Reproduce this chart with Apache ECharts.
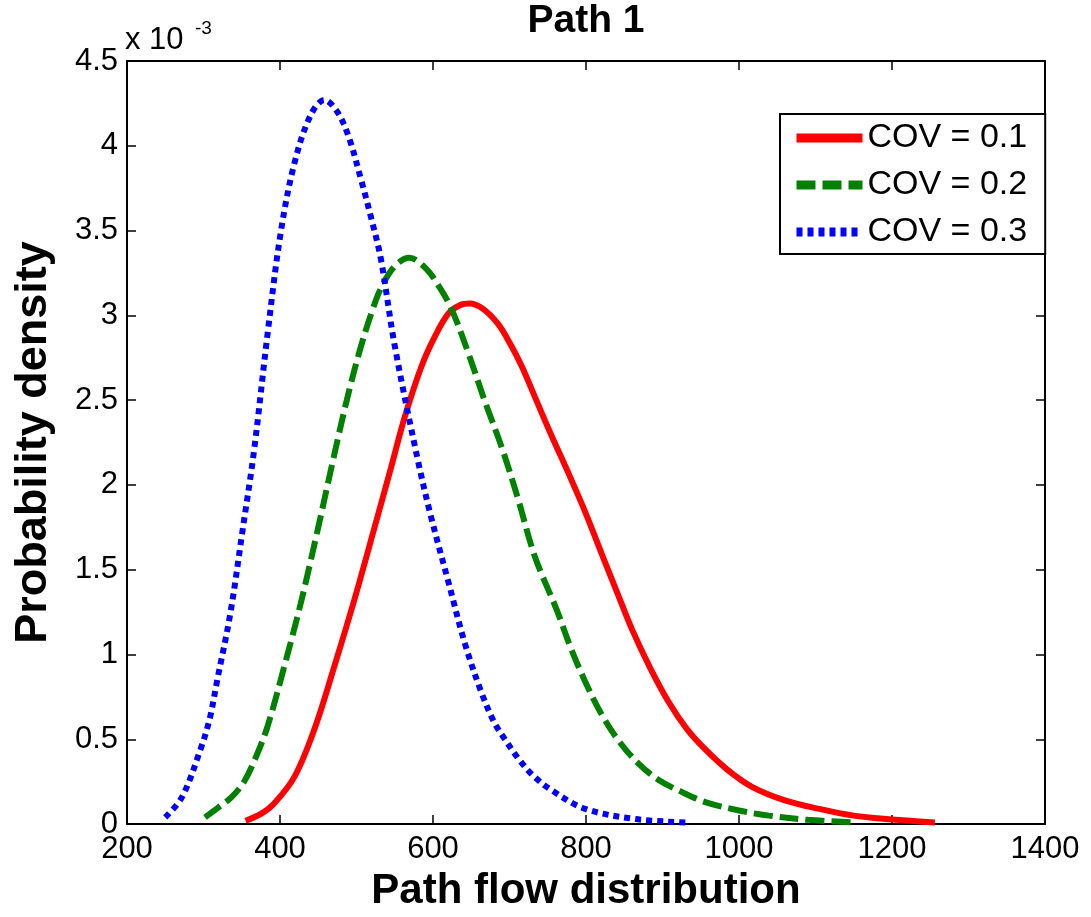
<!DOCTYPE html>
<html>
<head>
<meta charset="utf-8">
<script src="https://cdn.jsdelivr.net/npm/echarts@6/dist/echarts.min.js"></script>
<style>html,body{margin:0;padding:0;background:#fff;}#chart{width:1091px;height:917px;}</style>
</head>
<body>
<div id="chart"></div>
<script>
// Values; y values are in units of 1e-3 (axis shows "x 10^-3")
const titleText = 'Path 1';
const xLabel = 'Path flow distribution';
const yLabel = 'Probability density';
const seriesNames = ['COV = 0.1', 'COV = 0.2', 'COV = 0.3'];

const redX = [355,375,392,419,445,471,497,523,545,563,585,603,620,635,648,665,685,700,716,735,755,777,799,820,843,860,884,908,932,956,985,1017,1060,1105,1150,1192,1256];
const redY = [0.02,0.06,0.12,0.28,0.56,0.93,1.32,1.74,2.10,2.40,2.70,2.88,3.01,3.06,3.07,3.04,2.95,2.84,2.70,2.50,2.29,2.07,1.84,1.60,1.34,1.15,0.92,0.72,0.56,0.44,0.32,0.22,0.14,0.09,0.05,0.03,0.01];

const greenX = [302,320,337,353,368,384,405,427,449,471,490,506,520,532,550,569,590,608,624,646,668,690,711,733,762,780,799,820,843,868,895,925,956,1000,1039,1090,1150];
const greenY = [0.04,0.10,0.16,0.25,0.39,0.58,0.92,1.30,1.73,2.18,2.55,2.82,3.02,3.16,3.29,3.34,3.28,3.17,3.04,2.78,2.49,2.22,1.92,1.58,1.26,1.04,0.84,0.65,0.49,0.36,0.26,0.19,0.13,0.08,0.05,0.025,0.01];

const blueX = [250,272,296,308,318,335,351,366,384,401,419,440,458,475,490,506,520,532,550,580,597,620,642,663,680,694,711,730,755,799,865,930];
const blueY = [0.04,0.16,0.44,0.62,0.85,1.24,1.73,2.20,2.90,3.49,3.90,4.18,4.27,4.20,4.05,3.80,3.56,3.33,2.82,2.15,1.82,1.43,1.06,0.78,0.60,0.50,0.39,0.29,0.20,0.09,0.03,0.01];

const xMin = 200, xMax = 1400, xStep = 200;
const yMin = 0, yMax = 4.5, yStep = 0.5;

const colors = ['#ff0000', '#008000', '#0000ff'];
const dashes = ['solid', [19, 7], [6, 5]];

function pairs(xs, ys) { return xs.map((x, i) => [x, ys[i]]); }

const FONT = "'Liberation Sans', Arial, Helvetica, sans-serif";
const chart = echarts.init(document.getElementById('chart'), null, {renderer: 'canvas'});

const axisCommon = {
  axisLine: {show: true, onZero: false, lineStyle: {color: '#000', width: 2}},
  axisTick: {show: true, inside: true, length: 9, lineStyle: {color: '#000', width: 1.5}},
  splitLine: {show: false}
};

const option = {
  backgroundColor: '#fff',
  animation: false,
  title: {
    text: titleText,
    left: 581, top: -3, textAlign: 'center',
    textStyle: {fontFamily: FONT, fontSize: 39, fontWeight: 'bold', color: '#000'}
  },
  grid: {left: 127, right: 46, top: 61, bottom: 89, containLabel: false},
  xAxis: [
    Object.assign({
      type: 'value', min: xMin, max: xMax, interval: xStep, position: 'bottom',
      name: xLabel, nameLocation: 'middle', nameGap: 41,
      nameTextStyle: {fontFamily: FONT, fontSize: 42, fontWeight: 'bold', color: '#000'},
      axisLabel: {fontFamily: FONT, fontSize: 31, color: '#000', margin: 10, formatter: v => String(v)}
    }, axisCommon),
    Object.assign({
      type: 'value', min: xMin, max: xMax, interval: xStep, position: 'top',
      axisLabel: {show: false}
    }, axisCommon)
  ],
  yAxis: [
    Object.assign({
      type: 'value', min: yMin, max: yMax, interval: yStep, position: 'left',
      name: yLabel, nameLocation: 'middle', nameGap: 71,
      nameTextStyle: {fontFamily: FONT, fontSize: 45, fontWeight: 'bold', color: '#000'},
      axisLabel: {fontFamily: FONT, fontSize: 31, color: '#000', margin: 9, formatter: v => String(v)}
    }, axisCommon),
    Object.assign({
      type: 'value', min: yMin, max: yMax, interval: yStep, position: 'right',
      axisLabel: {show: false}
    }, axisCommon)
  ],
  legend: {
    orient: 'vertical',
    left: 780, top: 114,
    padding: [7, 18, 5, 12],
    itemGap: 13,
    itemWidth: 66, itemHeight: 14,
    backgroundColor: '#fff',
    borderColor: '#000', borderWidth: 2,
    itemStyle: {opacity: 0},
    textStyle: {fontFamily: FONT, fontSize: 34, color: '#000', lineHeight: 34},
    data: seriesNames.map((n, i) => ({
      name: n,
      itemStyle: {opacity: 0},
      lineStyle: {color: colors[i], width: 9, type: dashes[i], opacity: 1, cap: 'butt'}
    }))
  },
  graphic: [
    {type: 'text', left: 125, top: 25, style: {text: 'x 10', font: '31px ' + FONT, fill: '#000'}},
    {type: 'text', left: 195, top: 19, style: {text: '-3', font: '19px ' + FONT, fill: '#000'}}
  ],
  series: seriesNames.map((n, i) => ({
    name: n, type: 'line',
    data: pairs([redX, greenX, blueX][i], [redY, greenY, blueY][i]),
    showSymbol: false, symbol: 'none',
    smooth: 0.35, color: colors[i],
    lineStyle: {color: colors[i], width: 6, type: dashes[i], cap: 'butt'}, z: 3
  }))
};
chart.setOption(option);
</script>
</body>
</html>
